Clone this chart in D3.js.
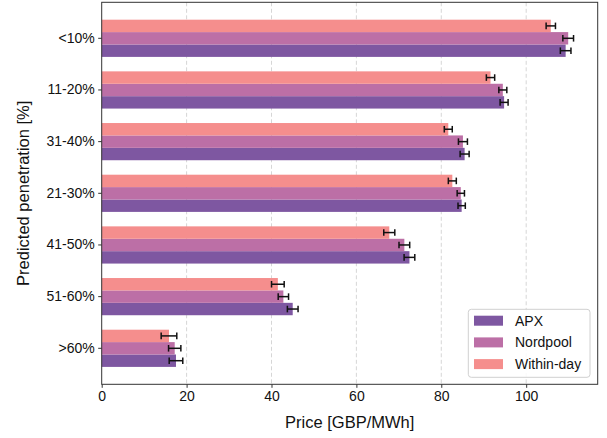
<!DOCTYPE html>
<html>
<head>
<meta charset="utf-8">
<script src="https://cdn.jsdelivr.net/npm/d3@7"></script>
<style>
  body { margin: 0; background: #fff; }
  text { font-family: "Liberation Sans", Arial, Helvetica, sans-serif; fill: #111; }
</style>
</head>
<body>
<svg id="chart" width="607" height="438"></svg>
<script>
const categories = ["<10%", "11-20%", "31-40%", "21-30%", "41-50%", "51-60%", ">60%"];
const seriesNames = ["APX", "Nordpool", "Within-day"];
const apx       = [109.3, 94.8, 85.5, 84.8, 72.5, 45.0, 17.5];
const apxErr    = [1.25, 0.94, 1.06, 0.86, 1.26, 1.26, 1.6];
const nordpool  = [109.9, 94.5, 85.1, 84.6, 71.3, 42.8, 17.2];
const nordErr   = [1.26, 0.94, 1.06, 0.86, 1.26, 1.22, 1.45];
const withinDay = [105.8, 91.6, 81.65, 82.6, 67.75, 41.5, 15.85];
const withinErr = [1.1, 0.98, 0.94, 0.94, 1.3, 1.49, 1.84];
const xTicks = [0, 20, 40, 60, 80, 100];
const colors = {"APX": "#7e57a1", "Nordpool": "#bc6fa6", "Within-day": "#f58e8d"};

const values = {"APX": apx, "Nordpool": nordpool, "Within-day": withinDay};
const errs = {"APX": apxErr, "Nordpool": nordErr, "Within-day": withinErr};

const svg = d3.select("#chart");
const L = 101.7, R = 597.7, T = 2.3, B = 384.3;

const x = d3.scaleLinear().domain([0, 116.85]).range([L, R]);
const y = d3.scaleBand().domain(categories).range([T, B]).paddingInner(0.28).paddingOuter(0.3367);
const ySub = d3.scaleBand().domain(["Within-day", "Nordpool", "APX"]).range([0, y.bandwidth()]);

// grid
svg.append("g").selectAll("line").data(xTicks.filter(d => d > 0)).join("line")
  .attr("x1", d => x(d)).attr("x2", d => x(d))
  .attr("y1", T).attr("y2", B)
  .attr("stroke", "#d6d6d6").attr("stroke-width", 1).attr("stroke-dasharray", "4,2.5");

// bars
const rows = [];
categories.forEach((c, i) => {
  seriesNames.forEach(s => rows.push({cat: c, s: s, v: values[s][i], e: errs[s][i]}));
});
svg.append("g").selectAll("rect").data(rows).join("rect")
  .attr("x", x(0))
  .attr("y", d => y(d.cat) + ySub(d.s))
  .attr("width", d => x(d.v) - x(0))
  .attr("height", ySub.bandwidth())
  .attr("fill", d => colors[d.s]);

// error bars
const eg = svg.append("g").attr("stroke", "#111").attr("stroke-width", 1.5);
rows.forEach(d => {
  const cy = y(d.cat) + ySub(d.s) + ySub.bandwidth() / 2;
  eg.append("line").attr("x1", x(d.v - d.e)).attr("x2", x(d.v + d.e)).attr("y1", cy).attr("y2", cy);
  eg.append("line").attr("x1", x(d.v - d.e)).attr("x2", x(d.v - d.e)).attr("y1", cy - 3.3).attr("y2", cy + 3.3);
  eg.append("line").attr("x1", x(d.v + d.e)).attr("x2", x(d.v + d.e)).attr("y1", cy - 3.3).attr("y2", cy + 3.3);
});

// frame
svg.append("rect").attr("x", L).attr("y", T).attr("width", R - L).attr("height", B - T)
  .attr("fill", "none").attr("stroke", "#333").attr("stroke-width", 1);

// axes
const xAxis = svg.append("g").attr("transform", `translate(0,${B})`)
  .call(d3.axisBottom(x).tickValues(xTicks).tickSize(3.5).tickPadding(3));
const yAxis = svg.append("g").attr("transform", `translate(${L},0)`)
  .call(d3.axisLeft(y).tickSize(3.5).tickPadding(3.5));
[xAxis, yAxis].forEach(a => {
  a.select(".domain").remove();
  a.selectAll(".tick line").attr("stroke", "#333");
  a.selectAll(".tick text").attr("font-size", 14).attr("fill", "#111")
    .style("font-family", '"Liberation Sans", Arial, sans-serif');
});

// labels
svg.append("text").attr("x", (L + R) / 2).attr("y", 428).attr("text-anchor", "middle")
  .attr("font-size", 16.5).text("Price [GBP/MWh]");
svg.append("text").attr("transform", `translate(28.5,${(T + B) / 2}) rotate(-90)`)
  .attr("text-anchor", "middle").attr("font-size", 16.5).text("Predicted penetration [%]");

// legend
const lg = svg.append("g");
lg.append("rect").attr("x", 468.3).attr("y", 309.3).attr("width", 121.7).attr("height", 68)
  .attr("rx", 3).attr("fill", "#fff").attr("fill-opacity", 0.85).attr("stroke", "#d0d0d0");
seriesNames.forEach((s, i) => {
  const cy = 320.7 + i * 21.7;
  lg.append("rect").attr("x", 474).attr("y", cy - 5).attr("width", 29).attr("height", 10).attr("fill", colors[s]);
  lg.append("text").attr("x", 515).attr("y", cy + 5).attr("font-size", 14).text(s);
});
</script>
</body>
</html>
